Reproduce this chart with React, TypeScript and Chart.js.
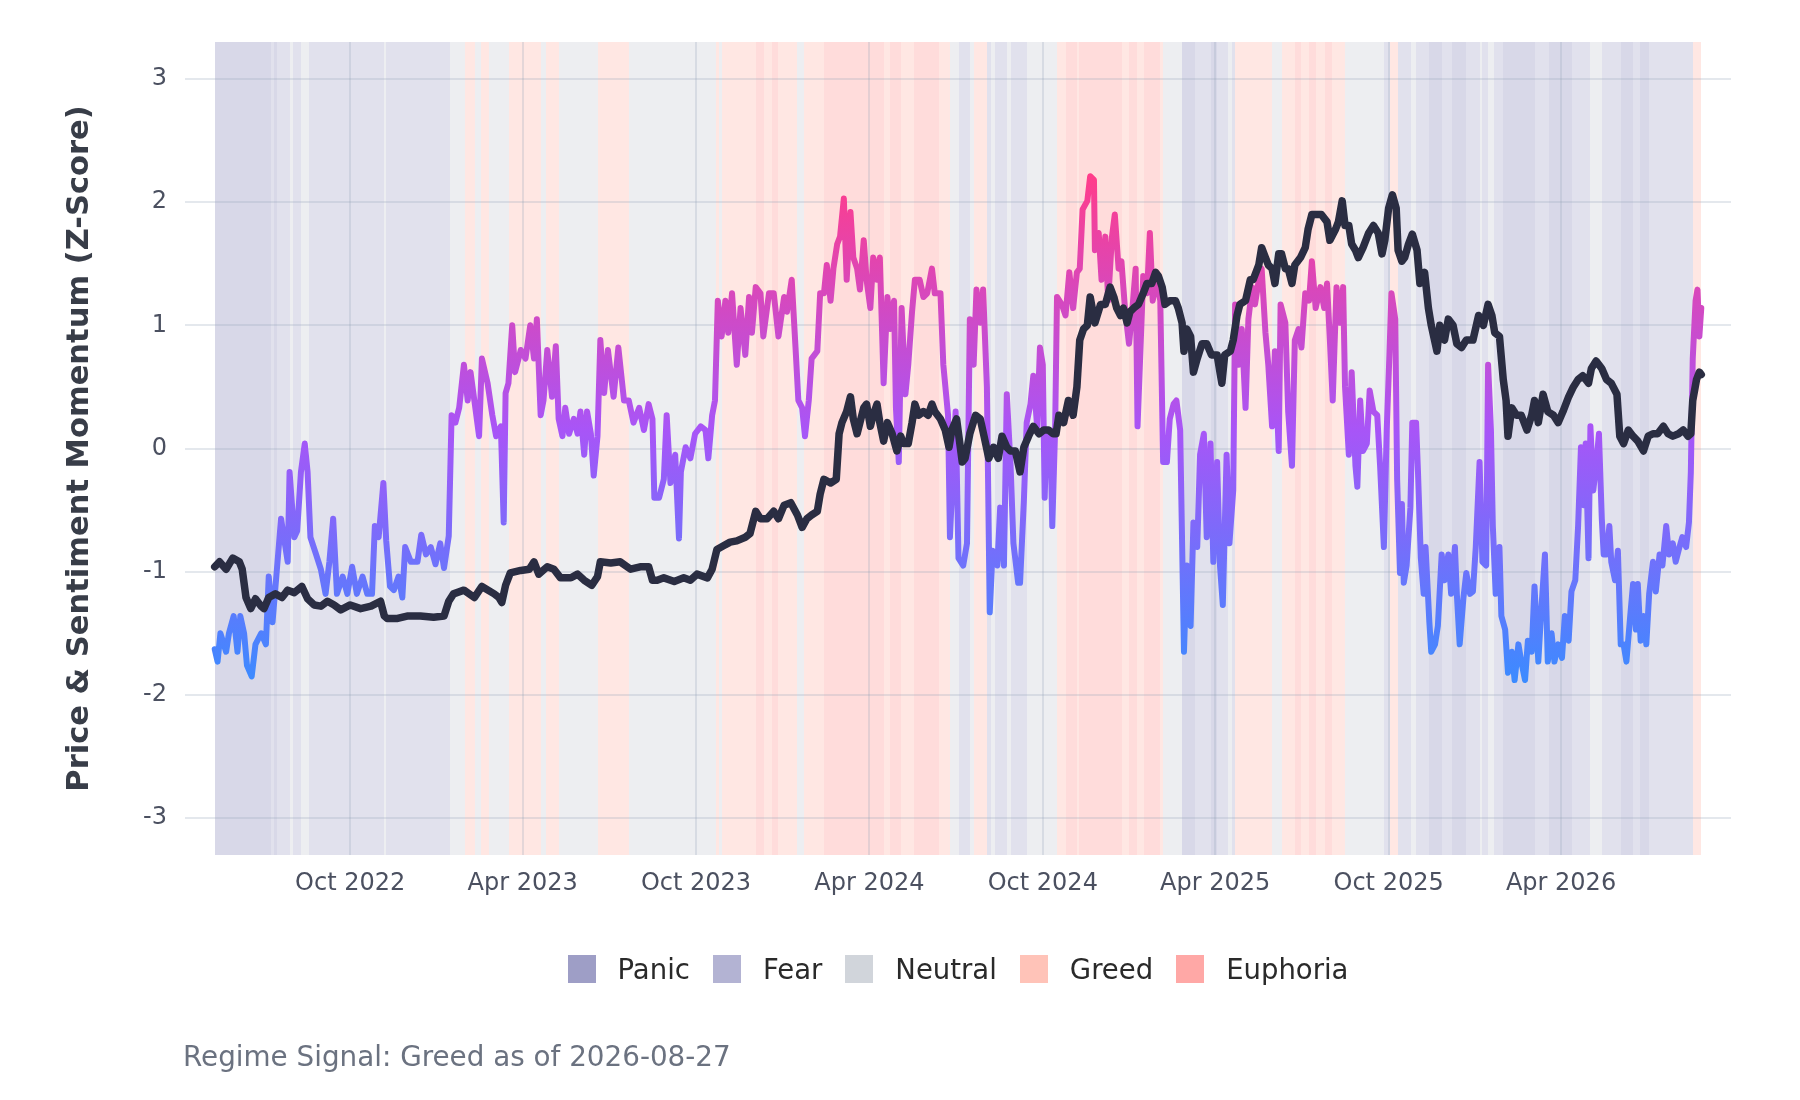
import React, { useEffect, useRef } from "react";
import { Chart, registerables } from "chart.js";

Chart.register(...registerables);

// ---------- data ----------
const START_DATE = "2022-05-11";
const END_DATE = "2026-08-27";
const tickDates = ["2022-10-01", "2023-04-01", "2023-10-01", "2024-04-01", "2024-10-01", "2025-04-01", "2025-10-01", "2026-04-01"];
const yTickValues = [-3, -2, -1, 0, 1, 2, 3];
const monthNames = ["Jan", "Feb", "Mar", "Apr", "May", "Jun", "Jul", "Aug", "Sep", "Oct", "Nov", "Dec"];

// days since START_DATE
const sentimentDays = [
  0, 3, 6, 12, 15, 20, 24, 27, 31, 34, 39, 43, 49, 54, 57, 61, 65, 70, 73, 77, 79, 84, 87, 91, 95, 98, 101, 107, 112, 117, 121, 125, 129, 135, 140, 145, 150, 156, 161, 166, 169, 173, 178, 181, 185, 189, 194, 198, 201, 207, 214, 218, 223, 228, 233, 238, 242, 247,
  250, 254, 258, 263, 267, 270, 274, 279, 282, 288, 293, 297, 302, 305, 307, 310, 314, 317, 323, 328, 333, 337, 340, 344, 347, 351, 356, 360, 363, 367, 370, 374, 379, 383, 386, 390, 393, 397, 400, 404, 407, 411, 415,
  421, 426, 432, 437, 442, 448, 453, 458, 462, 464, 469, 474, 477, 481, 486, 490, 492, 497, 502, 507, 513, 518, 521, 525, 528, 531, 535, 539, 542, 546, 551, 555, 560, 564, 567, 571, 576, 579, 585, 590, 595, 601, 604, 609, 613, 616, 620, 623, 627, 630, 636, 639, 643, 646, 650, 653, 657, 660, 664, 667, 671, 674, 678, 681, 685, 688, 692, 695, 699, 702, 706, 710, 713, 717, 719, 722, 725, 729, 732, 736, 739, 744, 748, 752, 757, 760, 766, 769, 774, 776, 782, 785, 790, 794, 797, 801, 804, 808, 811, 815, 818, 821, 826, 829, 833, 836, 840, 843, 848,
  850, 854, 857, 861, 864, 868, 871, 874, 876, 878, 882, 884, 887, 889, 894, 898, 902, 906, 910, 913, 916, 921, 924, 928, 929, 933, 936, 940, 943, 947, 950, 954, 957, 961, 965, 968, 972, 974, 977, 980, 984, 987, 990, 994, 998, 1001, 1005, 1008, 1012, 1015, 1019, 1023, 1026, 1030, 1033, 1037, 1040, 1044, 1047, 1051, 1054, 1058, 1061, 1064, 1068, 1071, 1075, 1077, 1081, 1084, 1088, 1091, 1095, 1098, 1102, 1105, 1109, 1112, 1116, 1119, 1123, 1125, 1130, 1133, 1137, 1140, 1144, 1147, 1151, 1155, 1158, 1162, 1167, 1171, 1174, 1177, 1180, 1184, 1188, 1191, 1193, 1197, 1200, 1204, 1206, 1209, 1212, 1216, 1219, 1223, 1227, 1230, 1234, 1237, 1240, 1242, 1246, 1248, 1251,
  1253, 1255, 1258, 1262, 1264, 1268, 1270, 1273, 1276, 1278, 1282, 1284, 1288, 1291, 1295, 1298, 1302, 1305, 1309, 1311, 1314, 1318, 1321, 1325, 1328, 1331, 1335, 1338, 1342, 1344, 1347, 1349, 1352, 1356, 1358, 1362, 1365, 1369, 1372, 1376, 1379, 1383, 1386, 1390, 1393, 1397, 1400, 1404, 1407, 1411, 1414, 1418, 1422, 1425, 1429, 1432, 1436, 1439, 1442, 1445, 1447, 1450, 1452, 1455, 1458, 1461, 1464, 1466, 1469, 1472, 1474, 1478, 1481, 1484, 1487, 1490, 1494, 1497, 1500, 1502, 1505, 1508, 1511, 1514, 1518, 1521, 1525, 1528, 1532, 1535, 1539, 1542, 1546, 1549, 1553, 1556, 1558, 1560, 1563, 1565, 1567, 1569,
];
const sentimentValues = [
  -1.63, -1.73, -1.5, -1.65, -1.5, -1.36, -1.65, -1.36, -1.5, -1.76, -1.85, -1.59, -1.5, -1.59, -1.04, -1.41, -1.04, -0.57, -0.72, -0.92, -0.19, -0.72, -0.67, -0.19, 0.04, -0.19, -0.72, -0.86, -0.98, -1.18, -0.92, -0.57, -1.18, -1.04, -1.18, -0.96, -1.18, -1.04, -1.18, -1.18, -0.63, -0.72, -0.28, -0.75, -1.12, -1.15, -1.04, -1.21, -0.8, -0.92, -0.92, -0.7, -0.86, -0.8, -0.94, -0.77, -0.97, -0.71,
  0.27, 0.21, 0.33, 0.68, 0.39, 0.62, 0.39, 0.1, 0.73, 0.53, 0.27, 0.1, 0.18, -0.6, 0.45, 0.53, 1.0, 0.62, 0.8, 0.73, 1.0, 0.73, 1.05, 0.27, 0.39, 0.8, 0.42, 0.83, 0.24, 0.1, 0.33, 0.12, 0.24, 0.12, 0.3, -0.05, 0.3, 0.12, -0.22, 0.1, 0.88, 0.45, 0.8,
  0.42, 0.82, 0.39, 0.39, 0.21, 0.33, 0.15, 0.36, 0.24, -0.4, -0.4, -0.25, 0.27, -0.28, -0.05, -0.73, -0.19, 0.01, -0.08, 0.12, 0.18, 0.15, -0.08, 0.27, 0.39, 1.2, 0.91, 1.2, 0.94, 1.26, 0.68, 1.14, 0.76, 1.23, 0.94, 1.31, 1.26, 0.91, 1.26, 1.26, 0.91, 1.23, 1.11, 1.37, 0.82, 0.39, 0.33, 0.1, 0.39, 0.73, 0.79, 1.26, 1.26, 1.49, 1.2, 1.46, 1.66, 1.72, 2.03, 1.37, 1.92, 1.55, 1.46, 1.29, 1.69, 1.37, 1.14, 1.55, 1.37, 1.55, 0.53, 1.23, 0.97, 1.2, 0.33, -0.11, 1.14, 0.44, 0.68, 1.11, 1.37, 1.37, 1.23, 1.26, 1.46, 1.26, 1.26, 0.68, 0.27, -0.72, 0.3, -0.89, -0.95, -0.77, 1.05, 0.68, 1.29, 1.02, 1.29, 0.5, -1.33, -0.83, -0.95, -0.48, -0.95, 0.44, -0.14, -0.77, -1.09,
  -1.09, -0.43, 0.21, 0.36, 0.59, 0.18, 0.82, 0.68, -0.4, 0.15, 0.12, -0.63, 0.15, 1.23, 1.17, 1.08, 1.43, 1.14, 1.43, 1.46, 1.94, 2.01, 2.21, 2.18, 1.61, 1.75, 1.37, 1.72, 1.2, 1.72, 1.9, 1.46, 1.52, 1.11, 0.85, 1.08, 1.46, 0.18, 0.79, 1.4, 1.26, 1.75, 1.2, 1.37, 1.2, -0.11, -0.11, 0.24, 0.36, 0.39, 0.15, -1.65, -0.95, -1.44, -0.6, -0.8, -0.05, 0.12, -0.72, 0.04, -0.92, -0.11, -0.95, -1.27, -0.05, -0.77, -0.34, 1.17, 0.68, 0.97, 0.33, 1.05, 1.31, 1.17, 1.37, 1.46, 0.94, 0.68, 0.18, 0.79, -0.02, 1.17, 1.02, 0.3, -0.14, 0.88, 0.97, 0.82, 1.26, 1.2, 1.52, 1.14, 1.31, 1.14, 1.34, 0.88, 0.39, 1.31, 1.02, 1.31, 0.5, -0.05, 0.62, -0.14, -0.31, 0.39, -0.02, 0.04, 0.47, 0.3, 0.27, -0.14, -0.8, 0.15, 0.79, 1.26, 1.05, -0.25, -1.01,
  -0.45, -1.09, -0.95, -0.48, 0.21, 0.21, -0.19, -0.89, -1.18, -0.8, -1.41, -1.65, -1.59, -1.44, -0.86, -1.07, -0.86, -1.18, -0.8, -1.18, -1.59, -1.21, -1.01, -1.18, -1.16, -0.8, -0.11, -0.92, -0.95, 0.68, 0.15, -0.63, -1.18, -0.8, -1.36, -1.47, -1.82, -1.65, -1.88, -1.59, -1.73, -1.88, -1.56, -1.65, -1.12, -1.73, -1.33, -0.86, -1.73, -1.5, -1.73, -1.59, -1.7, -1.36, -1.56, -1.16, -1.07, -0.63, 0.01, -0.46, 0.04, -0.89, 0.18, -0.34, -0.14, 0.12, -0.57, -0.86, -0.86, -0.63, -0.92, -1.07, -0.83, -1.59, -1.59, -1.73, -1.36, -1.1, -1.47, -1.1, -1.56, -1.36, -1.59, -1.18, -0.92, -1.16, -0.86, -0.95, -0.63, -0.86, -0.77, -0.92, -0.8, -0.72, -0.8, -0.6, -0.19, 0.73, 1.2, 1.29, 0.91, 1.14,
];

const priceDays = [
  0, 5, 12, 19, 26, 29, 33, 38, 43, 49, 52, 57, 64, 71, 77, 84, 92, 98, 105, 112, 119, 126, 133, 143, 154, 165, 175, 179, 182, 193, 203, 217, 231, 242, 247, 252, 263, 274, 282, 295, 300, 303, 307, 312, 323, 332, 337, 342, 351, 358, 365, 376, 383, 390, 398, 404, 407,
  418, 428, 439, 449, 458, 462, 467, 474, 485, 495, 502, 509, 520, 525, 530, 537, 544, 551, 560, 565, 571, 576, 583, 590, 595, 601, 608, 615, 620, 625, 630, 636, 639, 643, 650, 656, 659, 662, 667, 671, 674, 678, 681, 685, 688, 692, 695, 699, 702, 706, 710, 715, 720, 724, 727, 732, 736, 739, 743, 748, 753, 757, 760, 766, 771, 775, 778, 783, 789, 792, 797, 803, 808, 812, 817, 822, 827, 831, 836, 840, 845,
  850, 854, 859, 864, 870, 875, 880, 885, 888, 891, 896, 901, 906, 910, 913, 917, 921, 924, 929, 935, 940, 945, 949, 952, 956, 959, 963, 966, 970, 975, 980, 984, 989, 993, 996, 1000, 1003, 1008, 1014, 1017, 1021, 1023, 1026, 1030, 1033, 1037, 1042, 1047, 1052, 1058, 1061, 1063, 1066, 1072, 1075, 1079, 1082, 1088, 1093, 1096, 1102, 1105, 1109, 1112, 1116, 1119, 1123, 1126, 1130, 1133, 1137, 1140, 1146, 1151, 1154, 1158, 1163, 1168, 1174, 1177, 1183, 1186, 1190, 1193, 1197, 1200, 1204, 1207, 1212, 1218, 1223, 1228, 1232, 1235, 1239, 1243, 1247, 1249,
  1253, 1256, 1260, 1264, 1269, 1272, 1277, 1281, 1284, 1290, 1293, 1298, 1302, 1307, 1311, 1316, 1321, 1328, 1334, 1339, 1344, 1348, 1351, 1356, 1360, 1363, 1365, 1369, 1374, 1379, 1385, 1390, 1393, 1397, 1402, 1407, 1413, 1418, 1423, 1429, 1434, 1439, 1444, 1450, 1453, 1458, 1464, 1469, 1474, 1480, 1483, 1487, 1492, 1497, 1502, 1508, 1513, 1518, 1523, 1529, 1534, 1539, 1545, 1550, 1555, 1558, 1560, 1564, 1567, 1569,
];
const priceValues = [
  -0.96, -0.92, -0.98, -0.89, -0.92, -0.98, -1.21, -1.3, -1.22, -1.28, -1.3, -1.21, -1.18, -1.21, -1.15, -1.17, -1.12, -1.22, -1.27, -1.28, -1.24, -1.27, -1.31, -1.27, -1.3, -1.28, -1.24, -1.36, -1.38, -1.38, -1.36, -1.36, -1.37, -1.36, -1.24, -1.18, -1.15, -1.21, -1.12, -1.18, -1.21, -1.25, -1.11, -1.01, -0.99, -0.98, -0.92, -1.02, -0.96, -0.98, -1.05, -1.05, -1.02, -1.07, -1.11, -1.04, -0.92,
  -0.93, -0.92, -0.98, -0.96, -0.96, -1.07, -1.07, -1.05, -1.08, -1.05, -1.07, -1.02, -1.05, -0.98, -0.82, -0.79, -0.76, -0.75, -0.72, -0.69, -0.51, -0.57, -0.57, -0.51, -0.57, -0.46, -0.44, -0.54, -0.64, -0.57, -0.54, -0.51, -0.37, -0.25, -0.28, -0.25, 0.12, 0.21, 0.3, 0.42, 0.24, 0.12, 0.21, 0.33, 0.36, 0.18, 0.27, 0.36, 0.21, 0.06, 0.21, 0.12, -0.02, 0.1, 0.04, 0.04, 0.21, 0.36, 0.27, 0.3, 0.27, 0.36, 0.3, 0.24, 0.15, 0.01, 0.15, 0.24, -0.11, -0.08, 0.12, 0.27, 0.24, 0.1, -0.08, 0.01, -0.08, 0.1, 0.01, -0.02, -0.02,
  -0.19, 0.01, 0.1, 0.18, 0.12, 0.15, 0.15, 0.12, 0.12, 0.27, 0.21, 0.39, 0.27, 0.5, 0.88, 0.97, 1.0, 1.23, 1.02, 1.17, 1.17, 1.31, 1.23, 1.14, 1.08, 1.14, 1.02, 1.11, 1.14, 1.17, 1.26, 1.34, 1.34, 1.43, 1.4, 1.31, 1.17, 1.2, 1.2, 1.14, 1.02, 0.79, 0.97, 0.91, 0.62, 0.73, 0.85, 0.85, 0.76, 0.76, 0.62, 0.53, 0.76, 0.79, 0.88, 1.08, 1.17, 1.2, 1.37, 1.37, 1.49, 1.63, 1.55, 1.49, 1.46, 1.34, 1.58, 1.58, 1.46, 1.46, 1.34, 1.49, 1.55, 1.63, 1.78, 1.9, 1.9, 1.9, 1.84, 1.69, 1.78, 1.84, 2.01, 1.81, 1.81, 1.66, 1.61, 1.55, 1.63, 1.75, 1.81, 1.75, 1.58, 1.69, 1.95, 2.06, 1.95, 1.61,
  1.52, 1.55, 1.66, 1.74, 1.61, 1.34, 1.43, 1.14, 1.0, 0.79, 1.0, 0.88, 1.05, 1.0, 0.85, 0.82, 0.88, 0.88, 1.08, 1.0, 1.17, 1.08, 0.94, 0.91, 0.56, 0.39, 0.1, 0.33, 0.27, 0.27, 0.15, 0.27, 0.39, 0.21, 0.44, 0.3, 0.27, 0.21, 0.3, 0.42, 0.5, 0.56, 0.59, 0.53, 0.65, 0.71, 0.65, 0.56, 0.53, 0.44, 0.1, 0.04, 0.15, 0.1, 0.06, -0.02, 0.1, 0.12, 0.12, 0.18, 0.12, 0.1, 0.12, 0.15, 0.1, 0.12, 0.39, 0.56, 0.62, 0.6,
];

const regimeNames = ["Panic", "Fear", "Neutral", "Greed", "Euphoria"];
const regimeColors = ["#9e9ec6", "#b3b3d3", "#d1d5db", "#ffc3b8", "#ffa8a6"];

// regime changes: start day (since START_DATE) and regime in force from that day
const regimeStartDays = [
  0, 59, 63, 66, 79, 83, 91, 99, 179, 181, 248, 264, 275, 281, 289, 311, 344, 350, 363, 405, 437, 529, 532, 535, 571, 580, 588, 595, 615, 622,
  643, 706, 713, 724, 738, 764, 776, 786, 797, 801, 815, 819, 824, 836, 840, 857, 889, 898, 910, 912, 958, 965, 973, 981, 998, 1001, 1021, 1035, 1052, 1058,
  1070, 1074, 1077, 1116, 1126, 1140, 1147, 1155, 1162, 1172, 1179, 1193, 1234, 1240, 1249, 1263, 1268, 1282, 1295, 1306, 1321, 1335, 1338, 1344, 1350, 1360, 1393, 1408, 1433, 1452,
  1464, 1484, 1497, 1504, 1514, 1560,
];
const regimeSequence = [
  "Panic", "Fear", "Panic", "Fear", "Neutral", "Fear", "Neutral", "Fear", "Neutral", "Fear", "Neutral", "Greed", "Neutral", "Greed", "Neutral", "Greed", "Neutral", "Greed", "Neutral", "Greed", "Neutral", "Greed", "Neutral", "Greed", "Euphoria", "Greed", "Euphoria", "Greed", "Neutral", "Greed",
  "Euphoria", "Greed", "Euphoria", "Greed", "Euphoria", "Greed", "Neutral", "Fear", "Neutral", "Greed", "Fear", "Neutral", "Fear", "Neutral", "Fear", "Neutral", "Greed", "Euphoria", "Greed", "Euphoria", "Greed", "Euphoria", "Greed", "Euphoria", "Greed", "Neutral", "Panic", "Fear", "Panic", "Fear",
  "Neutral", "Fear", "Greed", "Neutral", "Greed", "Euphoria", "Greed", "Euphoria", "Greed", "Euphoria", "Greed", "Neutral", "Fear", "Greed", "Fear", "Neutral", "Fear", "Panic", "Fear", "Panic", "Fear", "Neutral", "Fear", "Neutral", "Fear", "Panic", "Fear", "Panic", "Fear", "Neutral",
  "Fear", "Panic", "Fear", "Panic", "Fear", "Greed",
];

const Y_TITLE = "Price & Sentiment Momentum (Z-Score)";
const FOOTER_TEXT = "Regime Signal: Greed as of 2026-08-27";

// ---------- helpers ----------
const DAY_MS = 86400000;
const toMs = (s: string) => {
  const [y, m, d] = s.split("-").map(Number);
  return Date.UTC(y, m - 1, d);
};
const START_MS = toMs(START_DATE);
const END_MS = toMs(END_DATE);
const dayMs = (d: number) => START_MS + d * DAY_MS;
const X_PAD = (END_MS - START_MS) * 0.02;

const FONT = "'DejaVu Sans', 'Noto Sans', sans-serif";
const W = 1800;
const H = 1100;

const regimeBandsPlugin = {
  id: "regimeBands",
  beforeDraw(chart: any) {
    const { ctx, chartArea, scales } = chart;
    const xs = scales.x;
    ctx.save();
    ctx.beginPath();
    ctx.rect(chartArea.left, chartArea.top, chartArea.right - chartArea.left, chartArea.bottom - chartArea.top);
    ctx.clip();
    ctx.globalAlpha = 0.4;
    for (let i = 0; i < regimeStartDays.length; i++) {
      const d0 = regimeStartDays[i];
      const d1 = i + 1 < regimeStartDays.length ? regimeStartDays[i + 1] : (END_MS - START_MS) / DAY_MS;
      const x0 = Math.round(xs.getPixelForValue(dayMs(d0)));
      const x1 = Math.round(xs.getPixelForValue(dayMs(d1)));
      ctx.fillStyle = regimeColors[regimeNames.indexOf(regimeSequence[i])];
      ctx.fillRect(x0, chartArea.top, x1 - x0, chartArea.bottom - chartArea.top);
    }
    ctx.restore();
  },
};

const sentimentGradient = (c: any) => {
  const chart = c.chart;
  const ys = chart.scales && chart.scales.y;
  if (!chart.chartArea || !ys) return "#a855f7";
  const yLow = ys.getPixelForValue(-1.9);
  const yHigh = ys.getPixelForValue(2.2);
  const g = chart.ctx.createLinearGradient(0, yLow, 0, yHigh);
  g.addColorStop(0, "#3b8bff");
  g.addColorStop(0.5, "#a855f7");
  g.addColorStop(1, "#ff3d8b");
  return g;
};

export default function App() {
  const canvasRef = useRef<HTMLCanvasElement | null>(null);

  useEffect(() => {
    if (!canvasRef.current) return;
    const gridColor = "rgba(148,163,184,0.25)";
    const chart = new Chart(canvasRef.current, {
      type: "line",
      data: {
        datasets: [
          {
            label: "Price",
            data: priceDays.map((d, i) => ({ x: dayMs(d), y: priceValues[i] })),
            borderColor: "#2a2d42",
            borderWidth: 7.5,
            pointRadius: 0,
            tension: 0,
            borderJoinStyle: "round",
            borderCapStyle: "round",
            order: 0,
          },
          {
            label: "Sentiment",
            data: sentimentDays.map((d, i) => ({ x: dayMs(d), y: sentimentValues[i] })),
            borderColor: sentimentGradient,
            borderWidth: 6,
            pointRadius: 0,
            tension: 0,
            borderJoinStyle: "round",
            borderCapStyle: "round",
            order: 1,
          },
        ],
      },
      options: {
        responsive: false,
        animation: false,
        devicePixelRatio: 1,
        layout: { padding: { top: 42, right: 69, bottom: 0, left: 0 } },
        plugins: {
          legend: { display: false },
          tooltip: { enabled: false },
        },
        scales: {
          x: {
            type: "linear",
            position: "bottom",
            min: START_MS - X_PAD,
            max: END_MS + X_PAD,
            grid: { color: gridColor, lineWidth: 2, drawTicks: false },
            border: { display: false },
            ticks: {
              padding: 14,
              color: "#4b5060",
              font: { family: FONT, size: 24 },
              autoSkip: false,
              maxRotation: 0,
              callback: (v: any) => {
                const dt = new Date(Number(v));
                return `${monthNames[dt.getUTCMonth()]} ${dt.getUTCFullYear()}`;
              },
            },
            afterBuildTicks: (s: any) => {
              s.ticks = tickDates.map((d) => ({ value: toMs(d) }));
            },
            afterFit: (s: any) => {
              s.height = H - 855;
            },
          },
          y: {
            min: -3.3,
            max: 3.3,
            grid: { color: gridColor, lineWidth: 2, drawTicks: false },
            border: { display: false },
            ticks: {
              padding: 18,
              color: "#4b5060",
              font: { family: FONT, size: 24 },
            },
            afterBuildTicks: (s: any) => {
              s.ticks = yTickValues.map((v) => ({ value: v }));
            },
            afterFit: (s: any) => {
              s.width = 185;
            },
            title: {
              display: true,
              text: Y_TITLE,
              color: "#383d48",
              font: { family: FONT, size: 30.5, weight: "bold" },
              padding: { top: 62, bottom: 0 },
            },
          },
        },
      },
      plugins: [regimeBandsPlugin],
    } as any);
    return () => chart.destroy();
  }, []);

  return (
    <div style={{ position: "fixed", left: 0, top: 0, width: W, height: H, background: "#ffffff", overflow: "hidden" }}>
      <canvas ref={canvasRef} width={W} height={H} style={{ position: "absolute", left: 0, top: 0, width: W, height: H }} />
      <div
        style={{
          position: "absolute",
          left: 185,
          width: 1546,
          top: 955,
          height: 28,
          display: "flex",
          justifyContent: "center",
          alignItems: "center",
          fontFamily: FONT,
          fontSize: 27.5,
          color: "#2a2a2a",
          whiteSpace: "nowrap",
        }}
      >
        {regimeNames.map((name, i) => (
          <div key={name} style={{ display: "flex", alignItems: "center", marginRight: i < regimeNames.length - 1 ? 23 : 0 }}>
            <div style={{ width: 28, height: 28, background: regimeColors[i], marginRight: 22 }} />
            <span>{name}</span>
          </div>
        ))}
      </div>
      <div
        style={{
          position: "absolute",
          left: 183,
          top: 1040,
          fontFamily: FONT,
          fontSize: 27.8,
          color: "#6b7280",
          whiteSpace: "nowrap",
        }}
      >
        {FOOTER_TEXT}
      </div>
    </div>
  );
}
